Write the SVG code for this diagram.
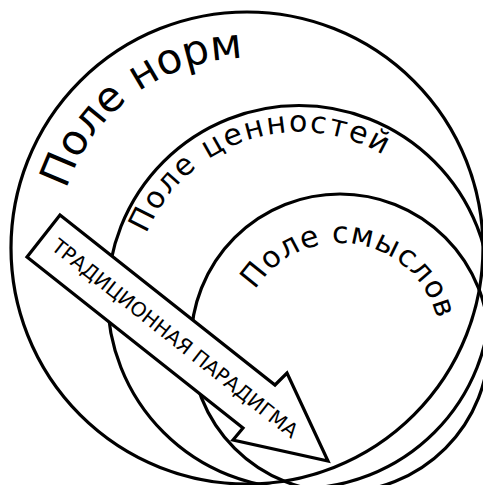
<svg xmlns="http://www.w3.org/2000/svg" width="483" height="485" viewBox="0 0 483 485">
<style>
.c{fill:none;stroke:#000;stroke-width:3.2}
.t{font-family:"DejaVu Sans","Verdana",sans-serif;fill:#000}
</style>
<defs>
<path id="pN" d="M57 248 A190 190 0 0 1 437 248"/>
<path id="pC" d="M134 297 A165 165 0 0 1 464 297"/>
<path id="pS" d="M240 343 A100 100 0 0 1 440 343"/>
</defs>
<rect width="483" height="485" fill="#fff"/>
<g id="field-norms">
<circle class="c" cx="247" cy="248" r="236"/>
<text class="t" font-size="42" text-anchor="middle"><textPath href="#pN" startOffset="177">Поле норм</textPath></text>
</g>
<g id="field-values">
<circle class="c" cx="299" cy="297" r="191.5"/>
<text class="t" font-size="30" text-anchor="middle" letter-spacing="2"><textPath href="#pC" startOffset="207">Поле ценностей</textPath></text>
</g>
<g id="field-meanings">
<circle class="c" cx="340" cy="343" r="149"/>
<text class="t" font-size="30" text-anchor="middle" letter-spacing="1"><textPath href="#pS" startOffset="173">Поле смыслов</textPath></text>
</g>
<g id="paradigm-arrow">
<polygon points="60,215 275,385 287,373 328,461 233,440 243,428 27,257" fill="#fff" stroke="#000" stroke-width="3.2" stroke-linejoin="miter"/>
<text class="t" font-size="20" text-anchor="middle" transform="translate(170.7,343.8) rotate(38.3)">ТРАДИЦИОННАЯ ПАРАДИГМА</text>
</g>
<g id="connectors"/>
</svg>
